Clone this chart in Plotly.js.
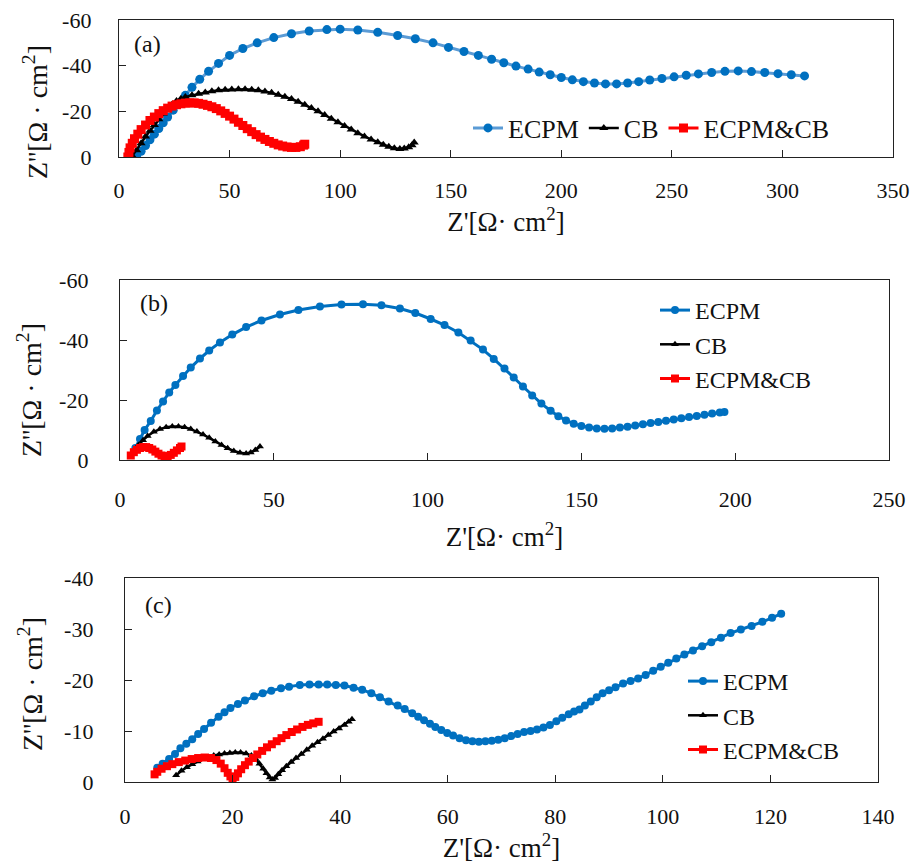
<!DOCTYPE html>
<html>
<head>
<meta charset="utf-8">
<script src="https://cdn.plot.ly/plotly-3.0.1.min.js"></script>
<style>html,body{margin:0;padding:0;background:#fff;}#chart{width:917px;height:864px;}</style>
</head>
<body>
<div id="chart"></div>
<script>
// ---------- Panel (a) ----------
const aECPM_x = [8,10,12,14,16,18,20,22,24.5,27,30,33,36.5,40.5,45,50,56,62.5,70,78,86,94,100,108,117,126,134,142,149,156,162.5,168.5,174,179.5,185,190,195,200,205,210,215,220,225,230,235,240,245.5,251,256.5,262,268,274,280,286,292,298,304,310];
const aECPM_y = [-0.5,-2.5,-5,-7.5,-10,-12.5,-15,-17.5,-20.5,-23.5,-27,-30.5,-34,-37.5,-41,-44.5,-47.5,-50,-52.3,-54,-55.2,-55.8,-56,-55.6,-54.6,-53.2,-51.8,-50,-48,-46.2,-44.5,-42.8,-41.3,-39.8,-38.5,-37.2,-36,-34.8,-33.8,-33,-32.4,-32,-32,-32.4,-33,-33.7,-34.4,-35.1,-35.8,-36.4,-37,-37.5,-37.7,-37.4,-37,-36.5,-36,-35.5];
const aCB_x = [6,8,10,12,14,16,18,20,22,24,26,28,30,33,36,39,42,45,48,51,54,57,60,63,66,69,72,75,78,81,84,87,90,93,96,99,102,105,108,111,114,117,119.5,122,124.5,127,129,131,132.5,133.5];
const aCB_y = [-0.5,-3,-6,-9,-11.5,-14,-16.5,-19,-21,-23,-24.5,-25.5,-26.3,-27,-27.7,-28.3,-28.8,-29.2,-29.4,-29.6,-29.7,-29.7,-29.5,-29.2,-28.7,-28.1,-27.3,-26.4,-25.4,-24.2,-22.9,-21.5,-20,-18.4,-16.8,-15.2,-13.6,-12,-10.4,-9,-7.7,-6.5,-5.4,-4.5,-3.8,-3.5,-3.7,-4.3,-5.2,-6.3];
const aMIX_x = [4,4.5,5,6,7,8.5,10,12,14,16,18,20,22,24,26,28,30,32,34,36,38,40,42,44,46,48,50,52,54,56,58,60,62,64,66,68,70,72,74,76,78,80,82,83.5,84];
const aMIX_y = [0,-2,-4,-6,-8,-10,-12,-14,-16,-17.5,-19,-20.3,-21.4,-22.3,-22.9,-23.3,-23.6,-23.7,-23.7,-23.5,-23.1,-22.6,-22,-21.2,-20.2,-19.1,-17.9,-16.6,-15.2,-13.8,-12.4,-11.1,-9.8,-8.7,-7.7,-6.8,-6,-5.3,-4.8,-4.4,-4.2,-4.2,-4.5,-5.2,-5.6];

// ---------- Panel (b) ----------
const bECPM_x = [5,6.5,8,10,12,14,16,18,20.5,23,26,29,32.5,36.5,41,46,52,58,65,72,79,85,91,96,101,105.5,110,114,118,121.5,125,128,131,134,137,140,142.5,145,147.5,150,152.5,155,157.5,160,162.5,165,167.5,170,172.5,175,177.5,180,182.5,185,187.5,190,192.5,195,196.5];
const bECPM_y = [-4,-7,-10,-13,-16.5,-19.5,-22.5,-25,-28,-30.8,-33.8,-36.5,-39.2,-41.8,-44.3,-46.5,-48.5,-50,-51.2,-51.8,-51.9,-51.6,-50.5,-49,-47,-45,-42.5,-39.8,-36.8,-33.7,-30.5,-27.5,-24.5,-21.5,-18.8,-16.4,-14.6,-13.2,-12.1,-11.3,-10.8,-10.5,-10.4,-10.5,-10.8,-11.1,-11.5,-11.9,-12.3,-12.7,-13.1,-13.5,-13.9,-14.3,-14.7,-15.1,-15.5,-15.8,-16];
const bCB_x = [5,6,7.5,9,11,13,15,17,19,21,23,25,27,29,31,33,35,37,39,41,42.5,44,45.5];
const bCB_y = [-3.5,-5,-6.6,-8,-9.4,-10.3,-10.9,-11.2,-11.2,-10.9,-10.3,-9.5,-8.5,-7.4,-6.2,-5,-3.9,-3,-2.4,-2.2,-2.5,-3.3,-4.5];
const bMIX_x = [3.5,4.5,5.5,6.5,7.5,8.5,9.5,10.5,11.5,12.5,13.5,14.5,15.5,16.5,17.5,18.5,19.5,20];
const bMIX_y = [-1.5,-2.6,-3.4,-4,-4.3,-4.3,-4,-3.5,-2.8,-2.1,-1.5,-1.2,-1.3,-1.7,-2.4,-3.2,-4,-4.5];

// ---------- Panel (c) ----------
const cECPM_x = [6,7,8.2,9.3,10.3,11.4,12.5,13.6,14.7,16,17.4,18.5,19.6,21,22.3,24,25.6,27.2,29,30.5,32.5,34.3,36,37.6,39.2,40.8,42.5,44.1,45.8,47.4,49,50.7,52,53.4,54.5,55.6,56.7,57.7,58.8,59.9,61,62.2,63.4,64.6,65.8,67,68.2,69.4,70.6,71.8,73,74.2,75.4,76.6,77.8,79,80.2,81.3,82.5,83.5,84.5,85.5,86.6,87.7,88.8,90,91.2,92.6,94,95.4,96.8,98.2,99.6,101,102.5,104,105.6,107.3,109,110.8,112.6,114.5,116.5,118.5,120.3,122];
const cECPM_y = [-2.8,-3.6,-4.5,-5.5,-6.6,-7.5,-8.4,-9.4,-10.4,-11.6,-12.8,-13.7,-14.5,-15.3,-16,-16.8,-17.4,-17.9,-18.4,-18.7,-19,-19.1,-19.1,-19.1,-19,-18.9,-18.5,-18.1,-17.4,-16.6,-15.8,-15,-14.3,-13.5,-12.8,-12.1,-11.4,-10.8,-10.2,-9.6,-9.1,-8.6,-8.2,-8,-7.9,-8,-8.1,-8.3,-8.6,-9,-9.4,-9.8,-10,-10.3,-10.7,-11.2,-11.9,-12.6,-13.3,-13.8,-14.2,-15,-15.8,-16.6,-17.4,-18,-18.6,-19.3,-19.8,-20.3,-21,-21.8,-22.6,-23.4,-24.2,-25,-25.8,-26.6,-27.4,-28.3,-29.2,-29.9,-30.6,-31.4,-32.2,-33];
const cCB_x = [9.5,10.5,11.5,12.5,13.5,14.5,15.5,16.5,17.5,18.5,19.5,20.5,21.5,22.5,23.5,24.3,25,25.7,26.3,26.9,27.4,27.9,28.5,29.2,30,30.9,31.8,32.8,33.8,34.8,35.8,36.8,37.8,38.8,39.8,40.8,41.6,42.2];
const cCB_y = [-1.3,-2.2,-2.9,-3.5,-4,-4.5,-4.9,-5.2,-5.4,-5.6,-5.7,-5.8,-5.8,-5.6,-5.2,-4.5,-3.6,-2.6,-1.7,-0.9,-0.5,-0.8,-1.5,-2.3,-3.1,-3.9,-4.7,-5.5,-6.3,-7.1,-7.8,-8.5,-9.2,-9.9,-10.5,-11.2,-11.8,-12.3];
const cMIX_x = [5.5,6,6.8,7.8,8.8,10,11.2,12.4,13.6,14.8,16,17,17.8,18.5,19.1,19.6,20,20.5,21,21.6,22.3,23,23.8,24.6,25.5,26.4,27.3,28.2,29.1,30,31,32,33,34,35,36];
const cMIX_y = [-1.5,-2,-2.6,-3.1,-3.5,-3.9,-4.2,-4.5,-4.7,-4.8,-4.7,-4.3,-3.6,-2.7,-1.8,-1.1,-0.7,-1,-1.7,-2.5,-3.3,-4,-4.7,-5.4,-6.1,-6.8,-7.4,-8,-8.6,-9.2,-9.8,-10.3,-10.8,-11.2,-11.5,-11.8];

// ---------- Labels ----------
const seriesNames = ["ECPM", "CB", "ECPM&CB"];
const panelLabels = ["(a)", "(b)", "(c)"];
const xTitle = "Z'[Ω· cm<sup>2</sup>]";
const yTitle = "Z''[Ω · cm<sup>2</sup>]";
const xTicksA = [0,50,100,150,200,250,300,350];
const xTicksB = [0,50,100,150,200,250];
const xTicksC = [0,20,40,60,80,100,120,140];
const yTicksAB = [0,-20,-40,-60];
const yTickTextAB = ["0","-20","-40","-60"];
const yTicksC = [0,-10,-20,-30,-40];
const yTickTextC = ["0","-10","-20","-30","-40"];

const W = 917, H = 864;
const FONT = "Liberation Serif, Times New Roman, serif";
const BLUE = "#0070C0", BLUE_LIGHT = "#5B9BD5", BLACK = "#000000", RED = "#FF0000";

function tr(x, y, name, idx, axis, legend, lineColor, lineW, mSize) {
  const sym = ["circle", "triangle-up", "square"][idx];
  const col = [BLUE, BLACK, RED][idx];
  return {
    x: x, y: y, name: name, type: "scatter", mode: "lines+markers",
    xaxis: "x" + axis, yaxis: "y" + axis, legend: legend,
    line: {color: lineColor, width: lineW},
    marker: {symbol: sym, color: col, size: mSize}
  };
}

const data = [
  tr(aECPM_x, aECPM_y, seriesNames[0], 0, "", "legend", BLUE_LIGHT, 3, 9),
  tr(aCB_x, aCB_y, seriesNames[1], 1, "", "legend", BLACK, 2.5, 8),
  tr(aMIX_x, aMIX_y, seriesNames[2], 2, "", "legend", RED, 3, 9),
  tr(bECPM_x, bECPM_y, seriesNames[0], 0, "2", "legend2", BLUE, 3, 8),
  tr(bCB_x, bCB_y, seriesNames[1], 1, "2", "legend2", BLACK, 2.5, 7),
  tr(bMIX_x, bMIX_y, seriesNames[2], 2, "2", "legend2", RED, 3, 8),
  tr(cECPM_x, cECPM_y, seriesNames[0], 0, "3", "legend3", BLUE, 3, 8),
  tr(cCB_x, cCB_y, seriesNames[1], 1, "3", "legend3", BLACK, 2.5, 7),
  tr(cMIX_x, cMIX_y, seriesNames[2], 2, "3", "legend3", RED, 3, 8)
];

function xax(l, r, range, ticks, standoffLbl, titleStandoff) {
  return {
    domain: [l / W, r / W], range: range, tickvals: ticks, ticktext: ticks.map(String),
    showline: true, mirror: true, linecolor: "#222", linewidth: 1.2,
    ticks: "inside", ticklen: 7, tickcolor: "#222", showgrid: false, zeroline: false,
    ticklabelstandoff: standoffLbl,
    tickfont: {family: FONT, size: 22, color: "#111"},
    title: {text: xTitle, font: {family: FONT, size: 27, color: "#111"}, standoff: titleStandoff}
  };
}
function yax(top, bot, range, tv, tt, xa, standoffLbl) {
  return {
    domain: [(H - bot) / H, (H - top) / H], range: range, tickvals: tv, ticktext: tt,
    anchor: xa, showline: true, mirror: true, linecolor: "#222", linewidth: 1.2,
    ticks: "inside", ticklen: 7, tickcolor: "#222", showgrid: false, zeroline: false,
    ticklabelstandoff: standoffLbl,
    tickfont: {family: FONT, size: 22, color: "#111"}
  };
}

function yTitleAnn(xpx, ypx) {
  return {text: yTitle, textangle: -90, x: xpx / W, y: (H - ypx) / H, xref: "paper", yref: "paper",
          xanchor: "center", yanchor: "middle", showarrow: false,
          font: {family: FONT, size: 28, color: "#111"}};
}
function panelAnn(txt, xpx, ypx) {
  return {text: txt, x: xpx / W, y: (H - ypx) / H, xref: "paper", yref: "paper",
          xanchor: "center", yanchor: "middle", showarrow: false,
          font: {family: FONT, size: 24, color: "#111"}};
}

const layout = {
  width: W, height: H,
  margin: {l: 0, r: 0, t: 0, b: 0},
  paper_bgcolor: "#fff", plot_bgcolor: "#fff",
  font: {family: FONT, color: "#111"},
  xaxis: Object.assign(xax(119, 893, [0, 350], xTicksA, 13, 10), {anchor: "y"}),
  yaxis: yax(20, 157, [0, -60], yTicksAB, yTickTextAB, "x", 22),
  xaxis2: Object.assign(xax(120, 889, [0, 250], xTicksB, 19, 16), {anchor: "y2"}),
  yaxis2: yax(280, 460, [0, -60], yTicksAB, yTickTextAB, "x2", 26),
  xaxis3: Object.assign(xax(125, 878, [0, 140], xTicksC, 14, 10), {anchor: "y3"}),
  yaxis3: yax(578, 782, [0, -40], yTicksC, yTickTextC, "x3", 26),
  legend: {orientation: "h", x: 468 / W, y: (H - 128) / H, xanchor: "left", yanchor: "middle",
           font: {family: FONT, size: 26, color: "#111"}, bgcolor: "rgba(0,0,0,0)"},
  legend2: {x: 655 / W, y: (H - 288) / H, xanchor: "left", yanchor: "top",
            font: {family: FONT, size: 24, color: "#111"}, bgcolor: "rgba(0,0,0,0)"},
  legend3: {x: 683 / W, y: (H - 659) / H, xanchor: "left", yanchor: "top",
            font: {family: FONT, size: 24, color: "#111"}, bgcolor: "rgba(0,0,0,0)"},
  annotations: [
    panelAnn(panelLabels[0], 147, 44),
    panelAnn(panelLabels[1], 154, 303),
    panelAnn(panelLabels[2], 158, 605),
    yTitleAnn(35, 112),
    yTitleAnn(30, 390),
    yTitleAnn(30, 684)
  ]
};

Plotly.newPlot("chart", data, layout, {displayModeBar: false, staticPlot: true});
</script>
</body>
</html>
